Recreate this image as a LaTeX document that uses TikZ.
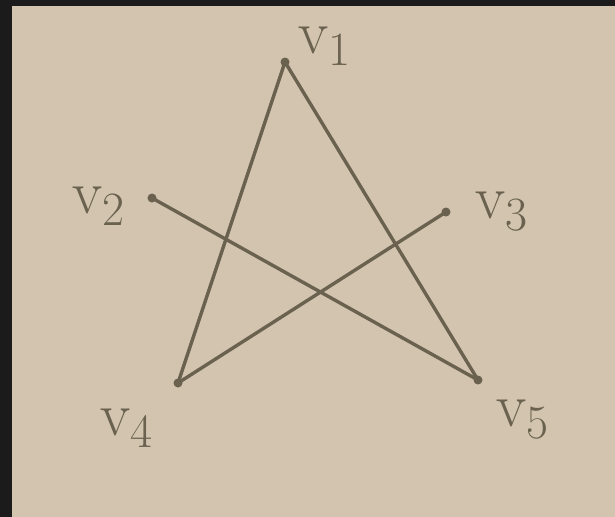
\documentclass[tikz,border=0pt]{standalone}
\usepackage{amsmath}

\definecolor{paper}{HTML}{D2C4AF}
\definecolor{pencil}{HTML}{6A624F}
\definecolor{frame}{HTML}{1B1B1B}

\newcommand{\vlab}[1]{v\raisebox{-0.45ex}{\fontsize{34}{34}\selectfont #1}}

\begin{document}
\begin{tikzpicture}[x=0.25mm, y=-0.25mm, line width=2.4pt, line cap=round]
  \tikzset{lbl/.style={text=pencil, font=\fontsize{44}{44}\selectfont, inner sep=0pt}}

  % hintergrund
  \fill[frame] (0,0) rectangle (615,517);
  \fill[paper] (12,6) rectangle (615,517);
  \useasboundingbox (0,0) rectangle (615,517);

  \coordinate (V1) at (285, 62);
  \coordinate (V2) at (152,198);
  \coordinate (V3) at (446,212);
  \coordinate (V4) at (178,383);
  \coordinate (V5) at (478,380);

  % kanten
  \draw[pencil] (V1) -- (V4);
  \draw[pencil] (V1) -- (V5);
  \draw[pencil] (V2) -- (V5);
  \draw[pencil] (V3) -- (V4);

  \foreach \p in {V1,V2,V3,V4,V5} \fill[pencil] (\p) circle (4.5);

  \node[lbl] (L1) at (324, 46) {\vlab{1}};
  \node[lbl] (L2) at ( 98,206) {\vlab{2}};
  \node[lbl] (L3) at (501,212) {\vlab{3}};
  \node[lbl] (L4) at (126,428) {\vlab{4}};
  \node[lbl] (L5) at (522,420) {\vlab{5}};
\end{tikzpicture}
\end{document}
